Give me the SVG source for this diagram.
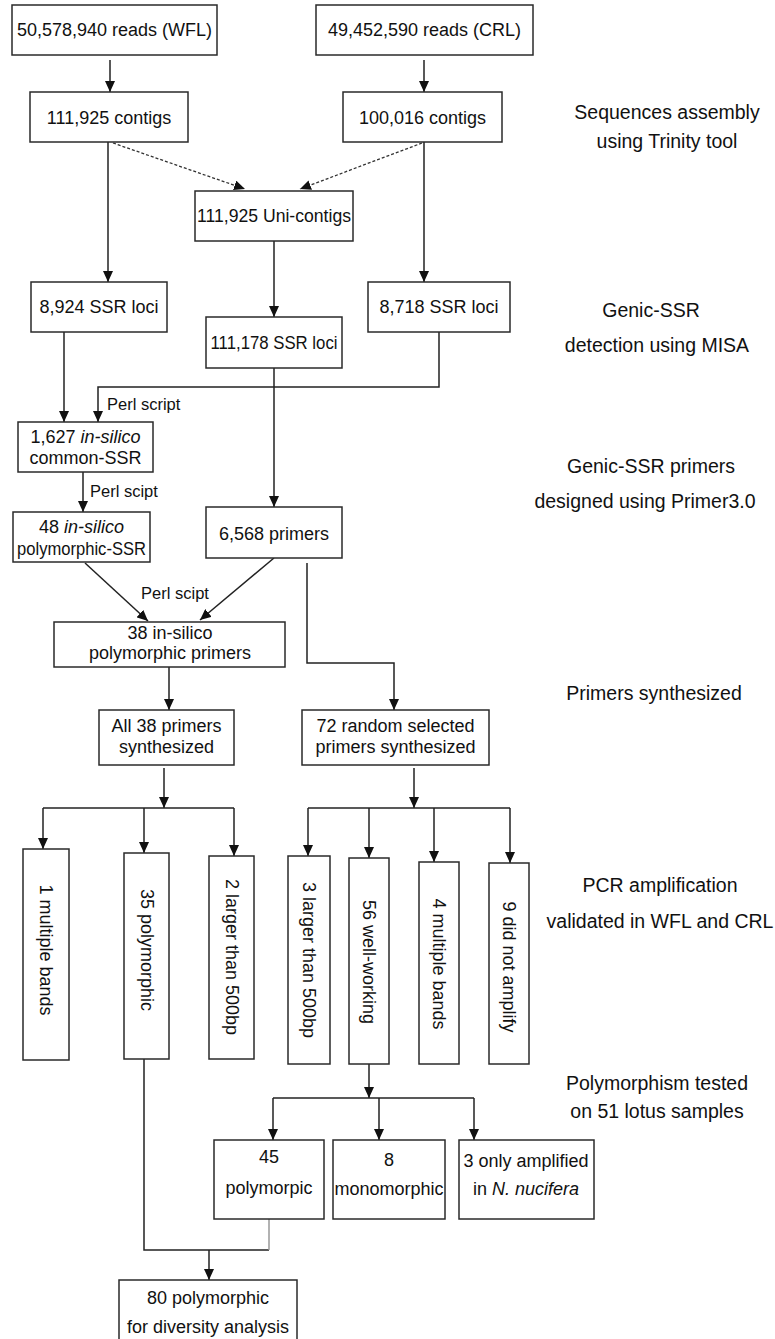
<svg xmlns="http://www.w3.org/2000/svg" width="775" height="1339" viewBox="0 0 775 1339">
<style>
.b{fill:#fff;stroke:#2a2a2a;stroke-width:1.5}
.t{font-family:"Liberation Sans",Arial,sans-serif;font-size:18px;fill:#111;text-anchor:middle}
.s{font-family:"Liberation Sans",Arial,sans-serif;font-size:19.5px;fill:#111;text-anchor:middle}
.p{font-family:"Liberation Sans",Arial,sans-serif;font-size:16.5px;fill:#111}
.c{fill:none;stroke:#222;stroke-width:1.5}
.d{fill:none;stroke:#333;stroke-width:1.3;stroke-dasharray:3 2}
.a{marker-end:url(#ah)}
</style>
<defs>
<marker id="ah" viewBox="0 0 11 10" refX="11" refY="5" markerWidth="11" markerHeight="10" markerUnits="userSpaceOnUse" orient="auto">
<path d="M0,0 L11,5 L0,10 z" fill="#111"/>
</marker>
</defs>
<rect width="775" height="1339" fill="#fff"/>
<g id="connectors">
<path class="c a" d="M110,60 V92"/>
<path class="c a" d="M424,60 V92"/>
<path class="d a" d="M113,143 L245,189"/>
<path class="d a" d="M422,143 L300,189"/>
<path class="c a" d="M108,142 V282"/>
<path class="c a" d="M274,241 V317"/>
<path class="c a" d="M424,142 V282"/>
<path class="c a" d="M64,332 V422"/>
<path class="c a" d="M439,332 V387 H98 V422"/>
<path class="c a" d="M274,368 V507"/>
<path class="c a" d="M83,472 V512"/>
<path class="c a" d="M85,563 L148,621"/>
<path class="c a" d="M274,558 L200,620"/>
<path class="c a" d="M307,563 V663 H394 V710"/>
<path class="c a" d="M169,667 V710"/>
<path class="c a" d="M164,768 V808"/>
<path class="c" d="M43,808 H234"/>
<path class="c a" d="M43,808 V849"/>
<path class="c a" d="M144,808 V853"/>
<path class="c a" d="M234,808 V856"/>
<path class="c a" d="M414,768 V808"/>
<path class="c" d="M308,808 H510"/>
<path class="c a" d="M308,808 V856"/>
<path class="c a" d="M369,808 V858"/>
<path class="c a" d="M434,808 V862"/>
<path class="c a" d="M510,808 V863"/>
<path class="c a" d="M369,1064 V1098"/>
<path class="c" d="M273,1098 H474"/>
<path class="c a" d="M273,1098 V1140"/>
<path class="c a" d="M379,1098 V1140"/>
<path class="c a" d="M474,1098 V1140"/>
<path class="c" d="M144,1059 V1250 H269"/>
<path fill="none" stroke="#999" stroke-width="1.5" d="M269,1250 V1219"/>
<path class="c a" d="M209,1250 V1280"/>
</g>
<g id="n1"><rect class="b" x="12" y="5" width="205" height="50"/><text class="t" x="114.5" y="36">50,578,940 reads (WFL)</text></g>
<g id="n2"><rect class="b" x="316" y="5" width="217" height="50"/><text class="t" x="424.5" y="36">49,452,590 reads (CRL)</text></g>
<g id="n3"><rect class="b" x="30" y="92" width="158" height="50"/><text class="t" x="109" y="124">111,925 contigs</text></g>
<g id="n4"><rect class="b" x="343" y="92" width="159" height="50"/><text class="t" x="422.5" y="124">100,016 contigs</text></g>
<g id="n5"><rect class="b" x="195" y="191" width="158" height="50"/><text class="t" x="274" y="222" textLength="154" lengthAdjust="spacingAndGlyphs">111,925 Uni-contigs</text></g>
<g id="n6"><rect class="b" x="31" y="282" width="136" height="50"/><text class="t" x="99" y="313">8,924 SSR loci</text></g>
<g id="n7"><rect class="b" x="206" y="317" width="136" height="51"/><text class="t" x="274" y="349" textLength="127" lengthAdjust="spacingAndGlyphs">111,178 SSR loci</text></g>
<g id="n8"><rect class="b" x="368" y="282" width="142" height="50"/><text class="t" x="439" y="313">8,718 SSR loci</text></g>
<g id="n9"><rect class="b" x="18" y="422" width="135" height="50"/><text class="t" x="85.5" y="443">1,627 <tspan font-style="italic">in-silico</tspan></text><text class="t" x="85.5" y="464">common-SSR</text></g>
<g id="n10"><rect class="b" x="13" y="512" width="137" height="50"/><text class="t" x="81.5" y="533">48 <tspan font-style="italic">in-silico</tspan></text><text class="t" x="81.5" y="555" textLength="129" lengthAdjust="spacingAndGlyphs">polymorphic-SSR</text></g>
<g id="n11"><rect class="b" x="206" y="507" width="136" height="51"/><text class="t" x="274" y="540">6,568 primers</text></g>
<g id="n12"><rect class="b" x="54" y="622" width="231" height="45"/><text class="t" x="170" y="639">38 in-silico</text><text class="t" x="170" y="659">polymorphic primers</text></g>
<g id="n13"><rect class="b" x="99" y="710" width="135" height="55"/><text class="t" x="166.5" y="732">All 38 primers</text><text class="t" x="166.5" y="753">synthesized</text></g>
<g id="n14"><rect class="b" x="302" y="710" width="187" height="55"/><text class="t" x="395.5" y="732">72 random selected</text><text class="t" x="395.5" y="753">primers synthesized</text></g>
<g id="n15"><rect class="b" x="23" y="849" width="46" height="211"/><text class="t" transform="translate(46,950) rotate(90)" y="6">1 multiple bands</text></g>
<g id="n16"><rect class="b" x="124" y="853" width="45" height="206"/><text class="t" transform="translate(146.5,950) rotate(90)" y="6">35 polymorphic</text></g>
<g id="n17"><rect class="b" x="209" y="856" width="45" height="203"/><text class="t" transform="translate(231.5,957) rotate(90)" y="6">2 larger than 500bp</text></g>
<g id="n18"><rect class="b" x="288" y="856" width="42" height="208"/><text class="t" transform="translate(309,960) rotate(90)" y="6">3 larger than 500bp</text></g>
<g id="n19"><rect class="b" x="349" y="858" width="40" height="206"/><text class="t" transform="translate(369,962) rotate(90)" y="6">56 well-working</text></g>
<g id="n20"><rect class="b" x="419" y="862" width="40" height="202"/><text class="t" transform="translate(439,964) rotate(90)" y="6">4 multiple bands</text></g>
<g id="n21"><rect class="b" x="489" y="863" width="40" height="201"/><text class="t" transform="translate(509,967) rotate(90)" y="6">9 did not amplify</text></g>
<g id="n22"><rect class="b" x="214" y="1140" width="110" height="79"/><text class="t" x="269" y="1163">45</text><text class="t" x="269" y="1194">polymorpic</text></g>
<g id="n23"><rect class="b" x="333" y="1140" width="112" height="79"/><text class="t" x="389" y="1166">8</text><text class="t" x="389" y="1195" textLength="109" lengthAdjust="spacingAndGlyphs">monomorphic</text></g>
<g id="n24"><rect class="b" x="459" y="1140" width="135" height="79"/><text class="t" x="526" y="1167">3 only amplified</text><text class="t" x="526" y="1195">in <tspan font-style="italic">N. nucifera</tspan></text></g>
<g id="n25"><rect class="b" x="119" y="1280" width="178" height="70"/><text class="t" x="208" y="1304">80 polymorphic</text><text class="t" x="208" y="1333">for diversity analysis</text></g>
<g id="labels">
<text class="p" x="107" y="410">Perl script</text>
<text class="p" x="90" y="497">Perl scipt</text>
<text class="p" x="175" y="599" text-anchor="middle">Perl scipt</text>
<text class="s" x="667" y="119">Sequences assembly</text>
<text class="s" x="667" y="148">using Trinity tool</text>
<text class="s" x="651" y="317">Genic-SSR</text>
<text class="s" x="657" y="352">detection using MISA</text>
<text class="s" x="651" y="473">Genic-SSR primers</text>
<text class="s" x="645" y="508">designed using Primer3.0</text>
<text class="s" x="654" y="700">Primers synthesized</text>
<text class="s" x="660" y="892">PCR amplification</text>
<text class="s" x="660" y="928">validated in WFL and CRL</text>
<text class="s" x="657" y="1090">Polymorphism tested</text>
<text class="s" x="657" y="1118">on 51 lotus samples</text>
</g>
</svg>
